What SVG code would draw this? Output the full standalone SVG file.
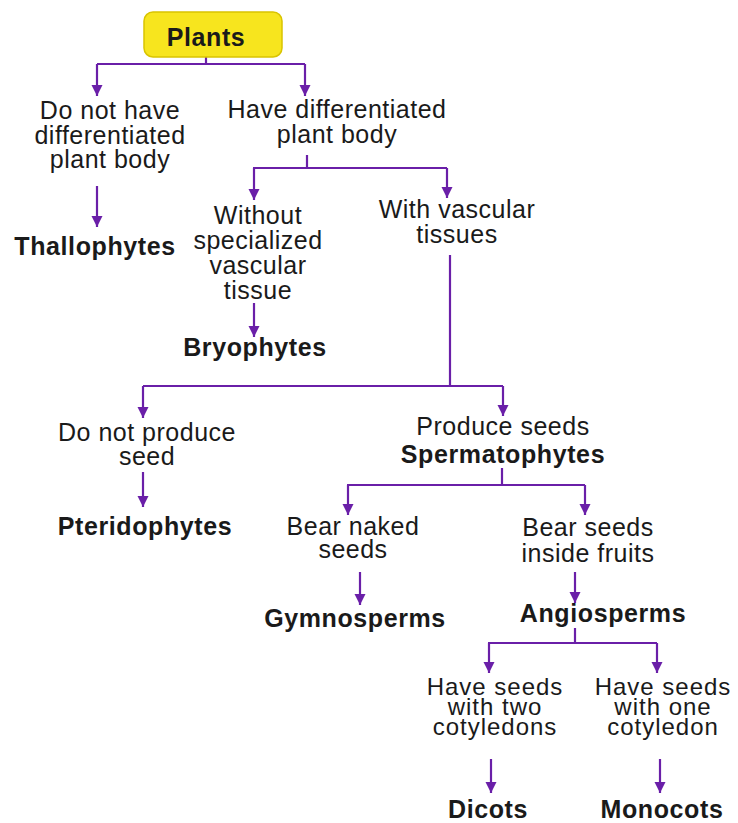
<svg xmlns="http://www.w3.org/2000/svg" width="738" height="823" viewBox="0 0 738 823">
<defs>
<style>
text{font-family:"Liberation Sans",Arial,Helvetica,sans-serif;font-size:25px;letter-spacing:0.5px;fill:#1a1a1a;text-anchor:middle}
.b{font-weight:bold;letter-spacing:0.6px}
.s{font-size:24px;letter-spacing:1px}
.c{stroke:#6a1fa8;stroke-width:2.2;fill:none}
</style>
<marker id="ah" viewBox="-6 -11 12 11" refX="0" refY="0" markerWidth="12" markerHeight="11" markerUnits="userSpaceOnUse" orient="0">
<path d="M-5.5,-11 L5.5,-11 L0,0 Z" fill="#6a1fa8"/>
</marker>
</defs>
<rect width="738" height="823" fill="#ffffff"/>
<g id="connectors">
<path class="c" d="M206,57 V64 M97,64 H305"/>
<path class="c" d="M97,64 V96" marker-end="url(#ah)"/>
<path class="c" d="M305,64 V96" marker-end="url(#ah)"/>
<path class="c" d="M97,186 V227" marker-end="url(#ah)"/>
<path class="c" d="M307,155 V168 M253,168 H447"/>
<path class="c" d="M254,168 V200" marker-end="url(#ah)"/>
<path class="c" d="M447,168 V198" marker-end="url(#ah)"/>
<path class="c" d="M254,303 V337" marker-end="url(#ah)"/>
<path class="c" d="M450,255 V386 M143,386 H503"/>
<path class="c" d="M143,386 V418" marker-end="url(#ah)"/>
<path class="c" d="M503,386 V416" marker-end="url(#ah)"/>
<path class="c" d="M143,472 V507" marker-end="url(#ah)"/>
<path class="c" d="M502,468 V485 M347,485 H585"/>
<path class="c" d="M348,485 V515" marker-end="url(#ah)"/>
<path class="c" d="M585,485 V515" marker-end="url(#ah)"/>
<path class="c" d="M360,572 V605" marker-end="url(#ah)"/>
<path class="c" d="M575,572 V603" marker-end="url(#ah)"/>
<path class="c" d="M575,628 V643 M488,643 H657"/>
<path class="c" d="M489,643 V673" marker-end="url(#ah)"/>
<path class="c" d="M657,643 V673" marker-end="url(#ah)"/>
<path class="c" d="M491,759 V793" marker-end="url(#ah)"/>
<path class="c" d="M660,759 V793" marker-end="url(#ah)"/>
</g>
<g id="plants">
<rect x="144" y="12" width="138" height="45" rx="9" fill="#f7e51e" stroke="#d9c400" stroke-width="1.5"/>
<text class="b" x="206" y="46">Plants</text>
</g>
<g id="no-diff">
<text x="110" y="119">Do not have<tspan x="110" dy="25">differentiated</tspan><tspan x="110" dy="24">plant body</tspan></text>
</g>
<g id="have-diff">
<text x="337" y="118">Have differentiated<tspan x="337" dy="25">plant body</tspan></text>
</g>
<g id="thallophytes"><text class="b" x="95" y="255">Thallophytes</text></g>
<g id="without-vascular">
<text x="258" y="224">Without<tspan x="258" dy="25">specialized</tspan><tspan x="258" dy="25">vascular</tspan><tspan x="258" dy="25">tissue</tspan></text>
</g>
<g id="bryophytes"><text class="b" x="255" y="356">Bryophytes</text></g>
<g id="with-vascular">
<text x="457" y="218">With vascular<tspan x="457" dy="25">tissues</tspan></text>
</g>
<g id="no-seed">
<text x="147" y="441">Do not produce<tspan x="147" dy="24">seed</tspan></text>
</g>
<g id="pteridophytes"><text class="b" x="145" y="535">Pteridophytes</text></g>
<g id="seeds">
<text x="503" y="435">Produce seeds</text>
<text class="b" x="503" y="463">Spermatophytes</text>
</g>
<g id="naked">
<text x="353" y="535">Bear naked<tspan x="353" dy="23">seeds</tspan></text>
</g>
<g id="gymnosperms"><text class="b" x="355" y="627">Gymnosperms</text></g>
<g id="fruits">
<text x="588" y="536">Bear seeds<tspan x="588" dy="26">inside fruits</tspan></text>
</g>
<g id="angiosperms"><text class="b" x="603" y="622">Angiosperms</text></g>
<g id="two-cot">
<text class="s" x="495" y="695">Have seeds<tspan x="495" dy="20">with two</tspan><tspan x="495" dy="20">cotyledons</tspan></text>
</g>
<g id="one-cot">
<text class="s" x="663" y="695">Have seeds<tspan x="663" dy="20">with one</tspan><tspan x="663" dy="20">cotyledon</tspan></text>
</g>
<g id="dicots"><text class="b" x="488" y="818">Dicots</text></g>
<g id="monocots"><text class="b" x="662" y="818">Monocots</text></g>
</svg>
